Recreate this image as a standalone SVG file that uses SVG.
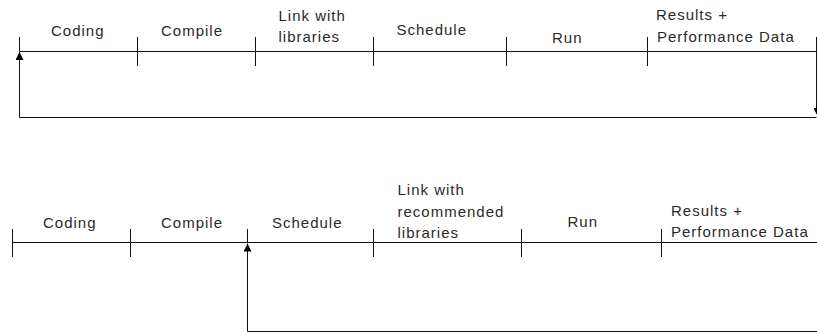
<svg xmlns="http://www.w3.org/2000/svg" width="817" height="335" viewBox="0 0 817 335">
  <style>
    .lbl { font-family: "Liberation Sans", Arial, sans-serif; font-size: 15px; letter-spacing: 1px; fill: #2a2a2a; }
    .ln { stroke: #111; stroke-width: 1; fill: none; }
  </style>
  <defs>
    <marker id="arrow" viewBox="0 0 8 8" refX="8" refY="4" markerWidth="8" markerHeight="8" markerUnits="userSpaceOnUse" orient="auto">
      <path d="M0,0 L8,4 L0,8 z" fill="#000"/>
    </marker>
    <marker id="arrowSmall" viewBox="0 0 8 8" refX="8" refY="4" markerWidth="6" markerHeight="6" markerUnits="userSpaceOnUse" orient="auto">
      <path d="M0,0 L8,4 L0,8 z" fill="#000"/>
    </marker>
  </defs>

  <rect width="817" height="335" fill="#fff"/>

  <!-- Current cycle: every stage repeats after the run -->
  <g id="top-timeline">
    <path class="ln" d="M19.5,51.5 H816.5"/>
    <path class="ln" d="M19.5,37 V51.5 M137.5,37 V66 M255.5,37 V66 M373.5,37 V66 M506.5,37 V66 M647.5,37 V66 M816.5,37 V51.5"/>
  </g>
  <g id="top-coding"><text class="lbl" x="51" y="35.5">Coding</text></g>
  <g id="top-compile"><text class="lbl" x="161" y="35.5">Compile</text></g>
  <g id="top-link"><text class="lbl" x="278.5" y="21">Link with</text><text class="lbl" x="278.5" y="42">libraries</text></g>
  <g id="top-schedule"><text class="lbl" x="396.5" y="35">Schedule</text></g>
  <g id="top-run"><text class="lbl" x="552" y="43">Run</text></g>
  <g id="top-results"><text class="lbl" x="656" y="20">Results +</text><text class="lbl" x="657" y="41.5">Performance Data</text></g>

  <!-- Improved cycle: loop re-enters at scheduling -->
  <g id="bottom-timeline">
    <path class="ln" d="M12.5,242.5 H817"/>
    <path class="ln" d="M12.5,229 V257 M130.5,229 V257 M247.5,229 V242.5 M373.5,229 V257 M521.5,229 V257 M661.5,229 V257"/>
  </g>
  <g id="bottom-coding"><text class="lbl" x="43" y="228">Coding</text></g>
  <g id="bottom-compile"><text class="lbl" x="161" y="228">Compile</text></g>
  <g id="bottom-schedule"><text class="lbl" x="272" y="228">Schedule</text></g>
  <g id="bottom-link"><text class="lbl" x="397.5" y="195">Link with</text><text class="lbl" x="397.5" y="216.5">recommended</text><text class="lbl" x="397.5" y="238">libraries</text></g>
  <g id="bottom-run"><text class="lbl" x="567.5" y="227">Run</text></g>
  <g id="bottom-results"><text class="lbl" x="671" y="215.5">Results +</text><text class="lbl" x="671" y="237">Performance Data</text></g>

  <g id="connectors">
    <path class="ln" d="M816.5,51.5 V114" marker-end="url(#arrowSmall)"/>
    <path class="ln" d="M816.5,117.5 H19.5 V52" marker-end="url(#arrow)"/>
    <path class="ln" d="M817,331.5 H247.5 V243.5" marker-end="url(#arrow)"/>
  </g>
</svg>
